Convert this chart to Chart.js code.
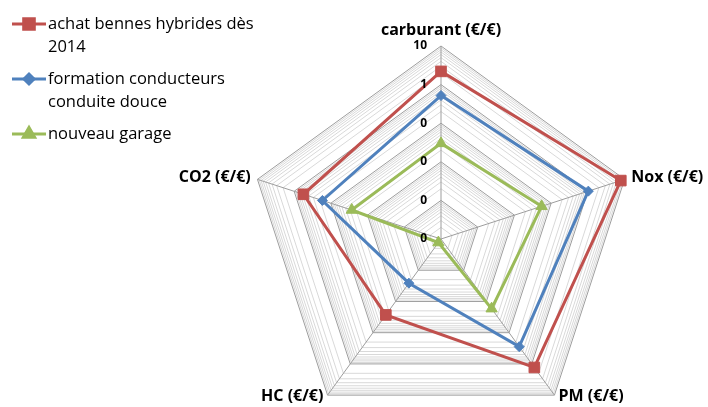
<!DOCTYPE html>
<html lang="fr">
<head>
<meta charset="utf-8">
<title>Radar (€/€)</title>
<script src="https://cdn.jsdelivr.net/npm/chart.js@4.4.1/dist/chart.umd.min.js"></script>
<style>
  html, body { margin: 0; padding: 0; background: #fff; overflow: hidden; }
  canvas { display: block; }
</style>
</head>
<body>
<canvas id="radar" width="708" height="407"></canvas>
<script>
// axes du radar
const axes = ['carburant (€/€)', 'Nox (€/€)', 'PM (€/€)', 'HC (€/€)', 'CO2 (€/€)'];

// séries (valeurs en €/€, échelle logarithmique)
const nomsSeries = ['achat bennes hybrides dès 2014', 'formation conducteurs conduite douce', 'nouveau garage'];
const bennesHybrides = [2.2, 7.9, 1.3, 0.027, 0.56];
const formationConduite = [0.52, 1.03, 0.28, 0.0026, 0.17];
const nouveauGarage = [0.03, 0.055, 0.017, 0.00013, 0.027];

// bornes de l'axe log : 10^-4 .. 10^1
const decadeMin = -4;
const decadeMax = 1;

const couleurs = ['#C0504D', '#4F81BD', '#9BBB59'];
const styles = ['rect', 'rectRot', 'triangle'];
const tailles = [7.5, 5, 6.5];

const POLICE = '"Open Sans", "Noto Sans", sans-serif';
const CENTRE_X = 441, CENTRE_Y = 239, RAYON = 193;

// graduations : une principale par décade, mineures à 2..9
function graduationsLog() {
    const ticks = [];
    for (let d = decadeMin; d < decadeMax; d++) {
        ticks.push({ value: d, major: true });
        for (let m = 2; m <= 9; m++) ticks.push({ value: d + Math.log10(m), major: false });
    }
    ticks.push({ value: decadeMax, major: true });
    return ticks;
}

// format Excel "0" : 10, 1, 0, 0 ...
function libelleGraduation(v) {
    return String(Math.round(Math.pow(10, v)));
}

const seriesValeurs = [bennesHybrides, formationConduite, nouveauGarage];

const legendePerso = {
    id: 'legendePerso',
    afterDraw(chart) {
        const ctx = chart.ctx;
        ctx.save();
        ctx.font = '16.5px ' + POLICE;
        ctx.textBaseline = 'middle';
        ctx.textAlign = 'left';
        let y = 24;
        nomsSeries.forEach((nom, i) => {
            // coupure du libellé sur plusieurs lignes
            const lignes = [];
            let courante = '';
            nom.split(' ').forEach(mot => {
                const essai = courante ? courante + ' ' + mot : mot;
                if (ctx.measureText(essai).width > 230 && courante) {
                    lignes.push(courante);
                    courante = mot;
                } else {
                    courante = essai;
                }
            });
            lignes.push(courante);

            ctx.strokeStyle = couleurs[i];
            ctx.lineWidth = 3;
            ctx.beginPath();
            ctx.moveTo(12, y);
            ctx.lineTo(46, y);
            ctx.stroke();
            ctx.fillStyle = couleurs[i];
            Chart.helpers.drawPoint(ctx, { pointStyle: styles[i], radius: tailles[i], rotation: 0, borderWidth: 1 }, 29, y);

            ctx.fillStyle = '#000';
            lignes.forEach((l, k) => ctx.fillText(l, 48, y + k * 23));
            y += (lignes.length - 1) * 23 + 32;
        });
        ctx.restore();
    }
};

const etiquettesAxes = {
    id: 'etiquettesAxes',
    afterDraw(chart) {
        const scale = chart.scales.r;
        const ctx = chart.ctx;
        ctx.save();
        // valeurs des graduations principales, à gauche de l'axe vertical
        ctx.font = 'bold 12px ' + POLICE;
        ctx.fillStyle = '#000';
        ctx.textAlign = 'right';
        ctx.textBaseline = 'middle';
        scale.ticks.forEach(t => {
            if (!t.major) return;
            const d = scale.getDistanceFromCenterForValue(t.value);
            ctx.fillText(libelleGraduation(t.value), scale.xCenter - 14, scale.yCenter - d);
        });

        // noms des axes
        ctx.font = 'bold 16px ' + POLICE;
        axes.forEach((nom, i) => {
            const p = scale.getPointPosition(i, scale.drawingArea + 7);
            const a = scale.getIndexAngle(i);
            const s = Math.sin(a), c = Math.cos(a);
            ctx.textAlign = Math.abs(s) < 0.01 ? 'center' : (s > 0 ? 'left' : 'right');
            if (c > 0.99) {
                ctx.textBaseline = 'bottom';
                ctx.fillText(nom, p.x, p.y - 1);
            } else {
                ctx.textBaseline = 'middle';
                ctx.fillText(nom, p.x, c < 0 ? p.y - 4 : p.y);
            }
        });
        ctx.restore();
    }
};

new Chart(document.getElementById('radar'), {
    type: 'radar',
    data: {
        labels: axes,
        datasets: seriesValeurs.map((vals, i) => ({
            label: nomsSeries[i],
            data: vals.map(v => Math.log10(v)),
            borderColor: couleurs[i],
            backgroundColor: couleurs[i],
            borderWidth: 3,
            fill: false,
            pointStyle: styles[i],
            pointRadius: tailles[i],
            pointHoverRadius: tailles[i],
            pointBorderWidth: 1,
            pointBorderColor: couleurs[i],
            pointBackgroundColor: couleurs[i]
        }))
    },
    plugins: [legendePerso, etiquettesAxes],
    options: {
        responsive: false,
        animation: false,
        events: [],
        plugins: { legend: { display: false }, tooltip: { enabled: false } },
        scales: {
            r: {
                min: decadeMin,
                max: decadeMax,
                afterBuildTicks: scale => { scale.ticks = graduationsLog(); },
                afterFit: scale => {
                    scale.xCenter = CENTRE_X;
                    scale.yCenter = CENTRE_Y;
                    scale.drawingArea = RAYON;
                },
                ticks: { display: false },
                pointLabels: { display: false },
                grid: {
                    color: ctx => ctx.tick && ctx.tick.major ? '#9d9d9d' : '#d9d9d9',
                    lineWidth: 1
                },
                angleLines: { color: '#9d9d9d', lineWidth: 1 }
            }
        }
    }
});
</script>
</body>
</html>
